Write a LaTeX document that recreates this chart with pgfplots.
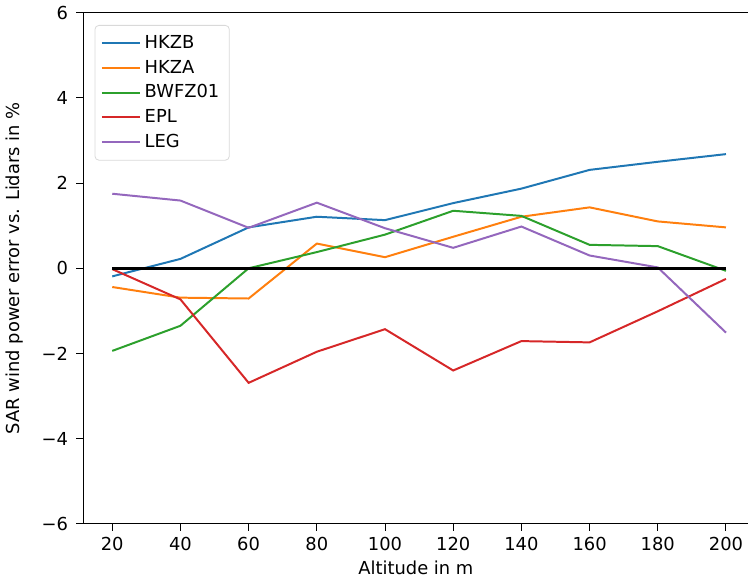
\documentclass[border=0pt]{standalone}
\usepackage{pgfplots}
\pgfplotsset{compat=1.18}
\usepackage{fontspec}
\setmainfont{DejaVu Sans}
\definecolor{tabblue}{HTML}{1F77B4}
\definecolor{taborange}{HTML}{FF7F0E}
\definecolor{tabgreen}{HTML}{2CA02C}
\definecolor{tabred}{HTML}{D62728}
\definecolor{tabpurple}{HTML}{9467BD}
\begin{document}
\fontsize{9}{11}\selectfont
\begin{tikzpicture}
\begin{axis}[
  width=334.5pt, height=257pt, scale only axis,
  xmin=11.5, xmax=206.6, ymin=-6, ymax=6,
  axis x line*=box, axis y line*=left,
  xtick={20,40,...,200},
  ytick={-6,-4,-2,0,2,4,6},
  yticklabels={−6,−4,−2,0,2,4,6},
  /pgf/number format/assume math mode=true,
  tick align=outside, xtick pos=bottom, ytick pos=left,
  major tick length=3.5pt,
  tick style={black, line width=0.5pt},
  axis line style={line width=0.5pt, -},
  xlabel={Altitude in m},
  ylabel={SAR wind power error vs. Lidars in \%},
  ticklabel style={font=\fontsize{9}{11}\selectfont},
  label style={font=\fontsize{9}{11}\selectfont},
  yticklabel style={xshift=-1pt},
  xlabel style={yshift=1pt},
  ylabel style={yshift=3pt},
  legend cell align=left,
  legend style={at={(0.017,0.976)}, anchor=north west, draw=black!15, rounded corners=2pt,
    font=\fontsize{9}{11}\selectfont, row sep=0.5pt, inner sep=3pt},
  legend image code/.code={\draw[#1] (0pt,0pt) -- (19pt,0pt);},
  every axis plot/.append style={line width=1pt},
]
\addplot[tabblue] coordinates {(20,-0.19) (40,0.22) (60,0.96) (80,1.21) (100,1.13) (120,1.53) (140,1.87) (160,2.31) (180,2.50) (200,2.68)};
\addlegendentry{HKZB}
\addplot[taborange] coordinates {(20,-0.44) (40,-0.69) (60,-0.71) (80,0.58) (100,0.26) (120,0.74) (140,1.21) (160,1.43) (180,1.10) (200,0.96)};
\addlegendentry{HKZA}
\addplot[tabgreen] coordinates {(20,-1.94) (40,-1.35) (60,0.0) (80,0.38) (100,0.79) (120,1.35) (140,1.23) (160,0.55) (180,0.52) (200,-0.06)};
\addlegendentry{BWFZ01}
\addplot[tabred] coordinates {(20,-0.02) (40,-0.73) (60,-2.69) (80,-1.96) (100,-1.43) (120,-2.40) (140,-1.71) (160,-1.74) (180,-1.01) (200,-0.25)};
\addlegendentry{EPL}
\addplot[tabpurple] coordinates {(20,1.75) (40,1.59) (60,0.95) (80,1.54) (100,0.94) (120,0.48) (140,0.98) (160,0.30) (180,0.02) (200,-1.51)};
\addlegendentry{LEG}
\addplot[black, line width=1.5pt, forget plot] coordinates {(20,0) (200,0)};
\end{axis}
\end{tikzpicture}
\end{document}
